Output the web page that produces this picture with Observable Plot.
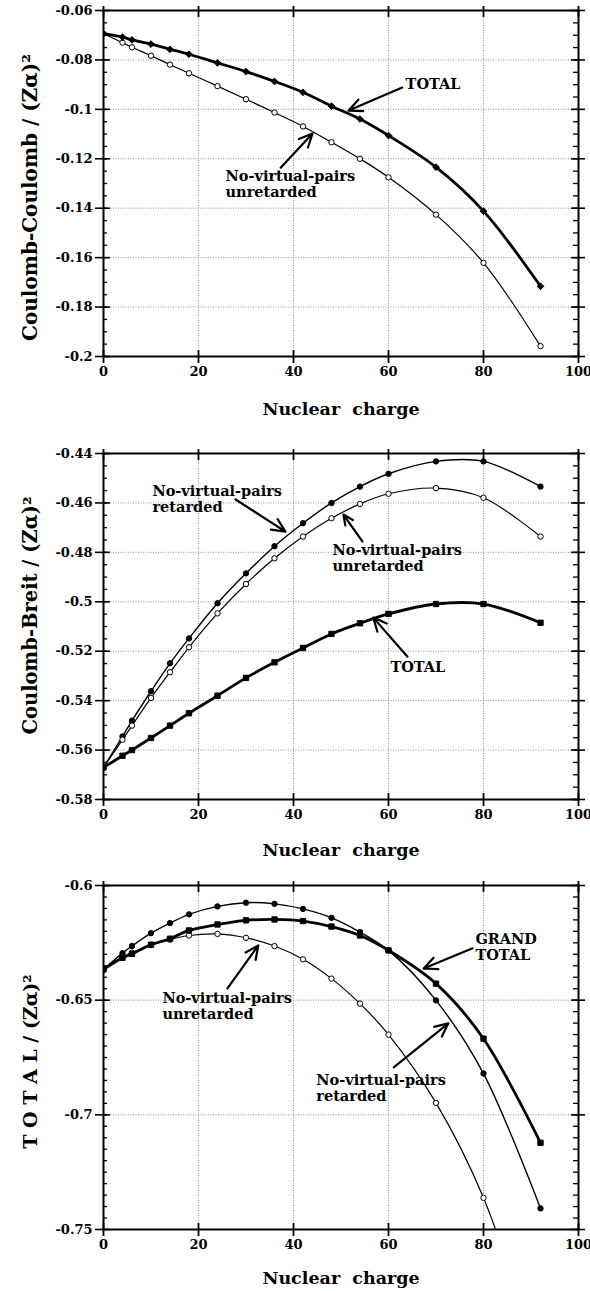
<!DOCTYPE html>
<html><head><meta charset="utf-8">
<script src="https://cdn.jsdelivr.net/npm/d3@7"></script>
<script src="https://cdn.jsdelivr.net/npm/@observablehq/plot@0.6"></script>
<style>
body{margin:0;background:#fff;}
#c{width:590px;}
#c svg{display:block;}
</style></head><body><div id="c"></div>
<script>
// Nuclear charge values at which points are plotted
const Z = [0,4,6,10,14,18,24,30,36,42,48,54,60,70,80,92];
const xTicks = [0,20,40,60,80,100];

// Panel 1: Coulomb-Coulomb
const ccTotal = [-0.0694,-0.0708,-0.0719,-0.0736,-0.0757,-0.0777,-0.0812,-0.0847,-0.0887,-0.0931,-0.0987,-0.1039,-0.1106,-0.1234,-0.1412,-0.1716];
const ccUnret = [-0.0694,-0.0730,-0.0749,-0.0783,-0.0819,-0.0854,-0.0906,-0.0959,-0.1013,-0.1069,-0.1133,-0.1200,-0.1275,-0.1426,-0.1621,-0.1958];
const yTicks1 = [-0.2,-0.18,-0.16,-0.14,-0.12,-0.1,-0.08,-0.06];
const labels1 = [
  {x:63.6, y:-0.0896, text:"TOTAL"},
  {x:25.7, y:-0.1302, text:"No-virtual-pairs\nunretarded"}
];
const arrows1 = [
  {x1:62.9, y1:-0.0912, x2:51.6, y2:-0.1005},
  {x1:37.3, y1:-0.1236, x2:44.0, y2:-0.1098}
];

// Panel 2: Coulomb-Breit
const cbRet   = [-0.567,-0.5545,-0.5481,-0.5362,-0.5249,-0.5148,-0.5006,-0.4885,-0.4775,-0.4682,-0.4600,-0.4534,-0.4482,-0.4432,-0.4432,-0.4534];
const cbUnret = [-0.567,-0.5558,-0.5501,-0.5389,-0.5285,-0.5184,-0.5047,-0.4928,-0.4824,-0.4736,-0.4662,-0.4604,-0.4563,-0.4540,-0.4579,-0.4736];
const cbTotal = [-0.567,-0.5623,-0.5600,-0.5551,-0.5501,-0.5451,-0.5380,-0.5308,-0.5245,-0.5187,-0.5130,-0.5087,-0.5049,-0.5009,-0.5009,-0.5085];
const yTicks2 = [-0.58,-0.56,-0.54,-0.52,-0.5,-0.48,-0.46,-0.44];
const labels2 = [
  {x:10.3, y:-0.4584, text:"No-virtual-pairs\nretarded"},
  {x:48.2, y:-0.4823, text:"No-virtual-pairs\nunretarded"},
  {x:60.4, y:-0.5262, text:"TOTAL"}
];
const arrows2 = [
  {x1:27.8, y1:-0.4586, x2:38.3, y2:-0.4716},
  {x1:54.5, y1:-0.4756, x2:50.5, y2:-0.4647},
  {x1:64.0, y1:-0.5222, x2:56.8, y2:-0.5064}
];

// Panel 3: TOTAL
const tRet   = [-0.6366,-0.6295,-0.6264,-0.6208,-0.6164,-0.6126,-0.6091,-0.6075,-0.6080,-0.6102,-0.6141,-0.6203,-0.6283,-0.6501,-0.6820,-0.7408];
const tUnret = [-0.6366,-0.6312,-0.6293,-0.6260,-0.6236,-0.6218,-0.6211,-0.6228,-0.6264,-0.6322,-0.6406,-0.6515,-0.6650,-0.6948,-0.7362,-0.8100];
const grand  = [-0.6366,-0.6315,-0.6298,-0.6258,-0.6232,-0.6196,-0.6170,-0.6152,-0.6148,-0.6155,-0.6179,-0.6218,-0.6283,-0.6428,-0.6668,-0.7122];
const yTicks3 = [-0.75,-0.7,-0.65,-0.6];
const labels3 = [
  {x:78.3, y:-0.6268, text:"GRAND\nTOTAL"},
  {x:12.4, y:-0.6523, text:"No-virtual-pairs\nunretarded"},
  {x:44.8, y:-0.6882, text:"No-virtual-pairs\nretarded"}
];
const arrows3 = [
  {x1:77.7, y1:-0.6274, x2:67.4, y2:-0.6362},
  {x1:26.1, y1:-0.6449, x2:32.6, y2:-0.6261},
  {x1:61.1, y1:-0.6793, x2:72.6, y2:-0.6601}
];

const FONT = "'DejaVu Serif', 'Liberation Serif', serif";

function panel(cfg) {
  const W = 590, mL = 103, mR = 12;
  const fw = W - mL - mR;
  const fh = cfg.height - cfg.marginTop - cfg.marginBottom;
  const fmt = d => String(+d.toFixed(3));
  const grid = {stroke:"#7a7a7a", strokeOpacity:1, strokeWidth:0.8, strokeDasharray:"1,1.5"};
  const yd = cfg.yDomain;
  const yMinor = d3.range(Math.round((yd[1]-yd[0])/0.005)+1).map(i => yd[0] + i*0.005);
  const marks = [
    Plot.gridX(xTicks.filter(d => d > 0 && d < 100), grid),
    Plot.gridY(cfg.yTicks.slice(1, -1), grid)
  ];
  for (const s of cfg.series) {
    const data = Z.map((z, i) => ({x: z, y: s.values[i]}));
    marks.push(Plot.line(data, {x:"x", y:"y", curve:"catmull-rom", stroke:"black", strokeWidth:s.width, clip:true}));
  }
  for (const s of cfg.series) {
    const data = Z.map((z, i) => ({x: z, y: s.values[i]}));
    marks.push(Plot.dot(data, {x:"x", y:"y", symbol:s.symbol, r:s.r, fill:s.fill, stroke:"black", strokeWidth:1, clip:true}));
  }
  marks.push(
    Plot.frame({stroke:"black", strokeWidth:2}),
    // left axis
    Plot.axisY({anchor:"left", ticks:cfg.yTicks, tickSize:8, tickPadding:3, tickFormat:fmt, label:null, strokeWidth:1.6, fontSize:13}),
    Plot.tickY(cfg.yTicks, {y:d => d, insetRight: fw - 7, strokeWidth:1.6}),
    Plot.tickY(yMinor, {y:d => d, insetRight: fw - 4, strokeWidth:1.3}),
    // right axis
    Plot.axisY({anchor:"right", ticks:cfg.yTicks, tickSize:6, fill:"none", label:null, strokeWidth:1.6}),
    Plot.tickY(cfg.yTicks, {y:d => d, insetLeft: fw - 7, strokeWidth:1.6}),
    Plot.tickY(yMinor, {y:d => d, insetLeft: fw - 5, strokeWidth:1.3}),
    // bottom axis
    Plot.axisX({anchor:"bottom", ticks:xTicks, tickSize:7, tickPadding:3, tickFormat:d => String(d), label:null, strokeWidth:1.8, fontSize:13}),
    Plot.tickX(xTicks, {x:d => d, insetTop: fh - 6, strokeWidth:1.8}),
    // top axis
    Plot.axisX({anchor:"top", ticks:xTicks, tickSize:5, fill:"none", label:null, strokeWidth:1.8}),
    Plot.tickX(xTicks, {x:d => d, insetBottom: fh - 7, strokeWidth:1.8}),
    // annotations
    Plot.arrow(cfg.arrows, {x1:"x1", y1:"y1", x2:"x2", y2:"y2", stroke:"black", strokeWidth:2.2, headLength:10, headAngle:50}),
    Plot.text(cfg.labels, {x:"x", y:"y", text:"text", textAnchor:"start", lineAnchor:"middle", lineHeight:1.12, fontSize:14.5, fontWeight:"bold"}),
    // axis titles
    Plot.text([cfg.yLabel], {text:d => d, frameAnchor:"left", textAnchor:"middle", rotate:-90, dx:-73, dy:cfg.yLabelDy, fontSize:cfg.yLabelSize, letterSpacing:cfg.yLabelSpacing, fontWeight:"bold", lineAnchor:"middle"}),
    Plot.text(["Nuclear  charge"], {text:d => d, frameAnchor:"bottom", textAnchor:"middle", dy:cfg.xLabelDy, fontSize:17.5, fontWeight:"bold", lineAnchor:"middle"})
  );
  return Plot.plot({
    width: W, height: cfg.height,
    marginLeft: mL, marginRight: mR, marginTop: cfg.marginTop, marginBottom: cfg.marginBottom,
    x: {domain:[0,100]},
    y: {domain: cfg.yDomain},
    style: {fontFamily: FONT, fontWeight: "bold", fontSize: "13px", background: "white", overflow: "visible", color: "black"},
    marks
  });
}

const c = document.getElementById("c");
c.append(panel({
  height:425, marginTop:10, marginBottom:69, yDomain:[-0.2,-0.06], yTicks:yTicks1,
  yLabel:"Coulomb-Coulomb / (Zα)²", xLabelDy:53, yLabelDy:14, yLabelSize:20, yLabelSpacing:"0.3px",
  series:[
    {values:ccUnret, width:1.2, symbol:"circle", r:2.7, fill:"white"},
    {values:ccTotal, width:2.8, symbol:"diamond2", r:3, fill:"black"}
  ],
  labels:labels1, arrows:arrows1
}));
c.append(panel({
  height:435, marginTop:28, marginBottom:61, yDomain:[-0.58,-0.44], yTicks:yTicks2,
  yLabel:"Coulomb-Breit / (Zα)²", xLabelDy:51, yLabelDy:-11, yLabelSize:19.5, yLabelSpacing:"0.3px",
  series:[
    {values:cbRet, width:1.4, symbol:"circle", r:2.7, fill:"black"},
    {values:cbUnret, width:1.2, symbol:"circle", r:2.7, fill:"white"},
    {values:cbTotal, width:2.8, symbol:"square", r:3, fill:"black"}
  ],
  labels:labels2, arrows:arrows2
}));
c.append(panel({
  height:431, marginTop:25, marginBottom:62, yDomain:[-0.75,-0.6], yTicks:yTicks3,
  yLabel:"T O T A L / (Zα)²", xLabelDy:49, yLabelDy:4, yLabelSize:19, yLabelSpacing:"0px",
  series:[
    {values:tRet, width:1.4, symbol:"circle", r:2.7, fill:"black"},
    {values:tUnret, width:1.2, symbol:"circle", r:2.7, fill:"white"},
    {values:grand, width:2.8, symbol:"square", r:3, fill:"black"}
  ],
  labels:labels3, arrows:arrows3
}));
</script>
</body></html>
